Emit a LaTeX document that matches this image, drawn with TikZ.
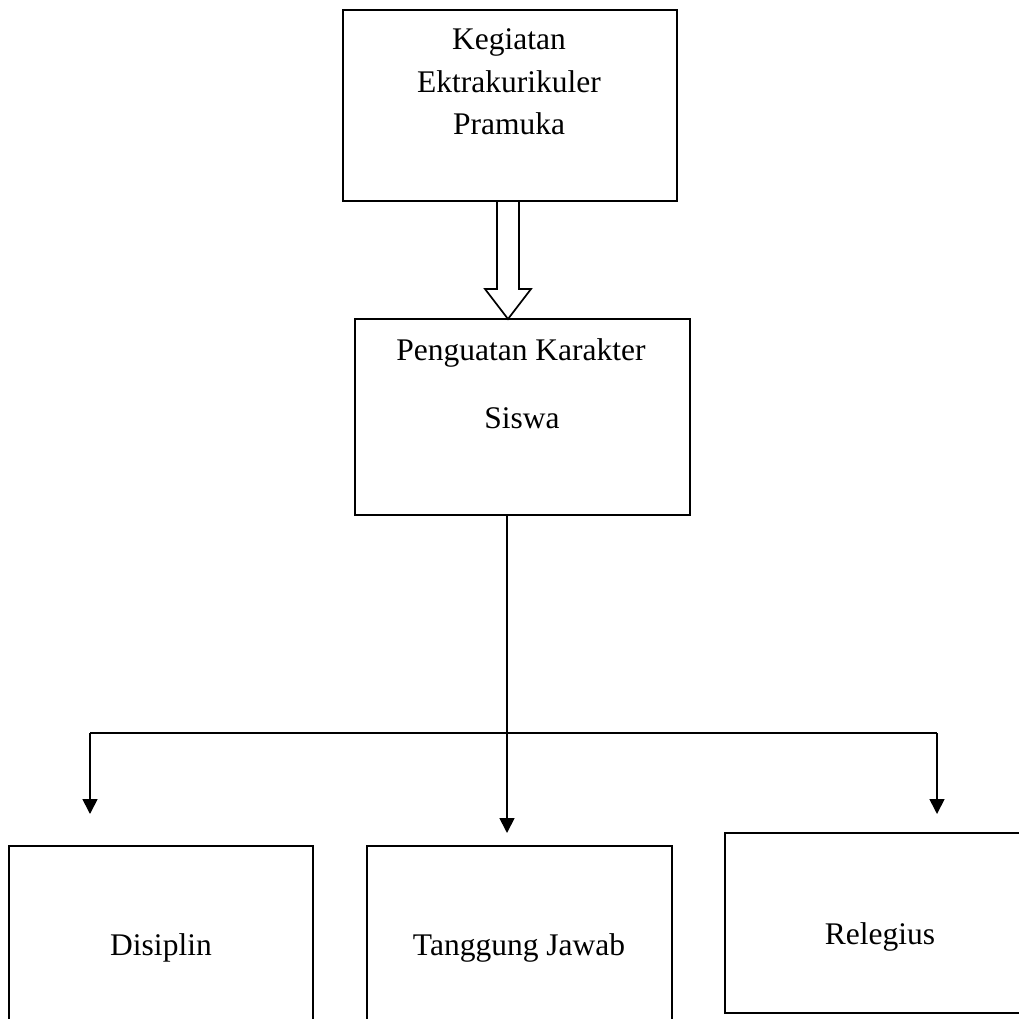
\documentclass[tikz,border=0pt]{standalone}
\usepackage{fontspec}
\setmainfont{Liberation Serif}
\usetikzlibrary{arrows.meta,calc}
\begin{document}
\begin{tikzpicture}[x=1pt,y=-1pt,
  box/.style={draw=black,line width=1.7pt,rectangle,inner sep=0pt,outer sep=0pt},
  lbl/.style={anchor=base,inner sep=0pt,font=\fontsize{31.5}{38}\selectfont},
  conn/.style={draw=black,line width=1.7pt},
  tip/.style={-{Triangle[width=15pt,length=15pt]}}]
\useasboundingbox (0,0) rectangle (1018,1019);
% boxes
\node[box,minimum width=334pt,minimum height=191pt] (top) at (510,105.5) {};
\node[box,minimum width=335pt,minimum height=196pt] (mid) at (522.5,417) {};
\node[box,minimum width=304pt,minimum height=194pt] (dis) at (161,943) {};
\node[box,minimum width=305pt,minimum height=194pt] (tgj) at (519.5,943) {};
\node[box,minimum width=315pt,minimum height=180pt] (rel) at (882.5,923) {};
% texts
\node[lbl] (t1) at (509,50) {Kegiatan};
\node[lbl] (t2) at (509,92.5) {Ektrakurikuler};
\node[lbl] (t3) at (509,135) {Pramuka};
\node[lbl] (m1) at (521,360) {Penguatan Karakter};
\node[lbl] (m2) at (522,428) {Siswa};
\node[lbl] (b1) at (161,955) {Disiplin};
\node[lbl] (b2) at (519,955) {Tanggung Jawab};
\node[lbl] (b3) at (880,944) {Relegius};
% hollow arrow from top box to middle box
\draw[conn,line join=miter] ($(top.south)+(-13,0)$) -- ++(0,88) -- ++(-12,0)
  -- ($(mid.north)+(-14.5,0)$) -- ($(top.south)+(21,88)$) -- ++(-12,0) -- ($(top.south)+(9,0)$);
% connectors
\coordinate (ms) at ($(mid.south)+(-15.5,0)$);
\coordinate (jn) at (507,733);
\coordinate (jl) at (90,733);
\coordinate (jr) at (937,733);
\coordinate (el) at ($(dis.north)!1!(dis.north)+(-71,-32)$);
\coordinate (er) at (937,814);
\draw[conn] (jl) -- (jr);
\draw[conn,tip] (ms) -- (ms |- 0,833);
\draw[conn,tip] (jl) -- (jl |- el);
\draw[conn,tip] (jr) -- (er);
\end{tikzpicture}
\end{document}
